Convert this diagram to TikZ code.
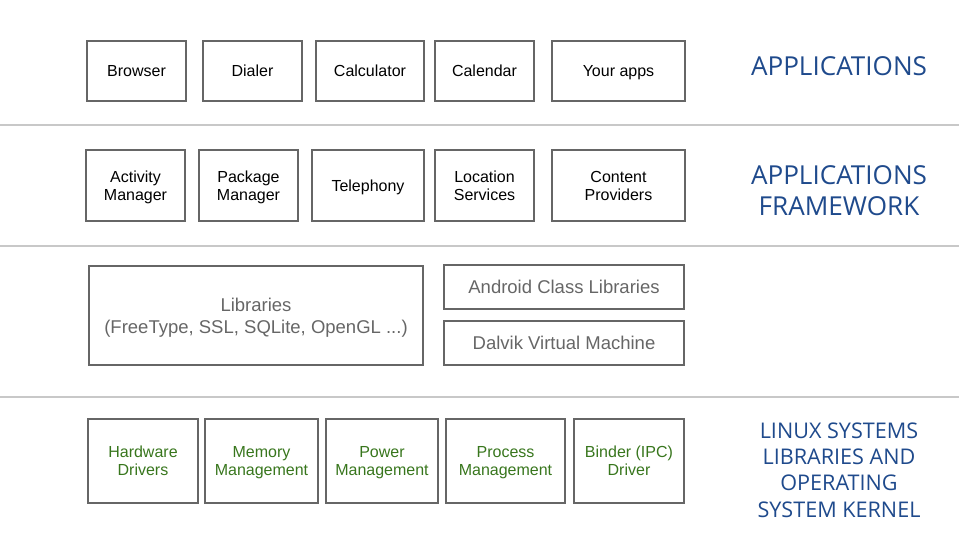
\documentclass[tikz,border=0pt]{standalone}
\usepackage{fontspec}
\setmainfont{Liberation Sans}
\newfontfamily\layerfont{Open Sans}
\definecolor{boxgray}{HTML}{666666}
\definecolor{sepgray}{HTML}{C8C8C8}
\definecolor{libgray}{HTML}{666666}
\definecolor{kernelgreen}{HTML}{38761D}
\definecolor{layerblue}{HTML}{1F4A8C}
\tikzset{
  block/.style={rectangle, draw=boxgray, line width=1.4pt, align=center, inner sep=0pt,
    text depth=0pt, font=\fontsize{16}{18}\selectfont},
  libblock/.style={block, text=libgray, font=\fontsize{18.5}{22}\selectfont},
  kernblock/.style={block, text=kernelgreen},
  layer/.style={align=center, text=layerblue, text depth=0pt, font=\layerfont\fontsize{21.6}{26.3}\selectfont},
  sep/.style={draw=sepgray, line width=2pt}
}
\begin{document}
\begin{tikzpicture}[x=1pt, y=-1pt]
    \useasboundingbox (0,0) rectangle (959,537);

    % applications
    \node(browser)[block, minimum width=99, minimum height=60] at (136.5,71) {Browser};
    \node(dialer)[block, minimum width=99, minimum height=60] at (252.5,71) {Dialer};
    \node(calc)[block, minimum width=108, minimum height=60] at (370,71) {Calculator};
    \node(cal)[block, minimum width=99, minimum height=60] at (484.5,71) {Calendar};
    \node(yours)[block, minimum width=133, minimum height=60] at (618.5,71) {Your apps};
    \node(apps)[layer, font=\layerfont\fontsize{26.1}{30.5}\selectfont] at (839,66) {APPLICATIONS};

    \draw[sep] (0,125) -- (959,125);

    % framework
    \node(actm)[block, minimum width=99, minimum height=71] at (135.5,185.5) {Activity\\Manager};
    \node(pkgm)[block, minimum width=99, minimum height=71] at (248.5,185.5) {Package\\Manager};
    \node(tel)[block, minimum width=112, minimum height=71] at (368,185.5) {Telephony};
    \node(loc)[block, minimum width=99, minimum height=71] at (484.5,185.5) {Location\\Services};
    \node(cont)[block, minimum width=133, minimum height=71] at (618.5,185.5) {Content\\Providers};
    \node(frame)[layer, font=\layerfont\fontsize{26.1}{30.5}\selectfont] at (839,190.5) {APPLICATIONS\\FRAMEWORK};

    \draw[sep] (0,246) -- (959,246);

    % libraries and runtime
    \node(libs)[libblock, minimum width=334, minimum height=99] at (256,315.5) {Libraries\\(FreeType, SSL, SQLite, OpenGL ...)};
    \node(acl)[libblock, minimum width=240, minimum height=44] at (564,287) {Android Class Libraries};
    \node(dvm)[libblock, minimum width=240, minimum height=44] at (564,343) {Dalvik Virtual Machine};

    \draw[sep] (0,397) -- (959,397);

    % kernel
    \node(hw)[kernblock, minimum width=110, minimum height=84] at (143,461) {Hardware\\Drivers};
    \node(mem)[kernblock, minimum width=113, minimum height=84] at (261.5,461) {Memory\\Management};
    \node(pow)[kernblock, minimum width=112, minimum height=84] at (382,461) {Power\\Management};
    \node(proc)[kernblock, minimum width=119, minimum height=84] at (505.5,461) {Process\\Management};
    \node(binder)[kernblock, minimum width=110, minimum height=84] at (629,461) {Binder (IPC)\\Driver};
    \node(kernel)[layer] at (839,470) {LINUX SYSTEMS\\LIBRARIES AND\\OPERATING\\SYSTEM KERNEL};

  \end{tikzpicture}
\end{document}
